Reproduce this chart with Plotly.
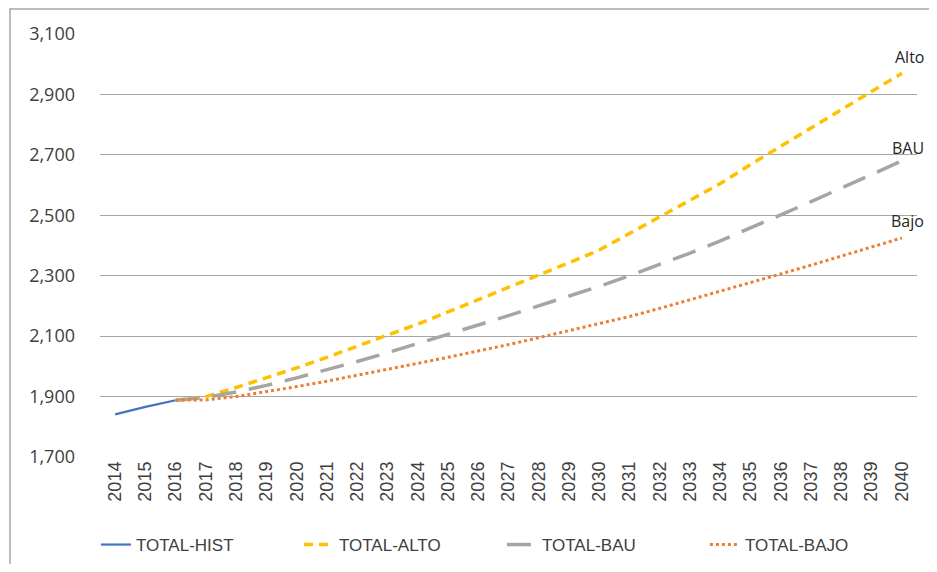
import plotly.graph_objects as go

years = [str(y) for y in range(2014, 2041)]

hist_years = ["2014", "2015", "2016"]
total_hist = [1841, 1866, 1888]

proj_years = [str(y) for y in range(2016, 2041)]
total_alto = [1888, 1900, 1930, 1962, 1995, 2030, 2066, 2103, 2140, 2180,
              2220, 2262, 2302, 2343, 2385, 2440, 2497, 2550, 2605, 2668,
              2728, 2788, 2850, 2910, 2970]
total_bau = [1888, 1897, 1915, 1937, 1962, 1988, 2016, 2045, 2075, 2105,
             2137, 2168, 2200, 2233, 2265, 2300, 2337, 2375, 2415, 2458,
             2500, 2545, 2590, 2635, 2680]
total_bajo = [1888, 1889, 1900, 1916, 1933, 1951, 1970, 1990, 2010, 2030,
              2050, 2072, 2095, 2118, 2140, 2165, 2192, 2220, 2248, 2277,
              2306, 2335, 2365, 2395, 2425]

end_labels = ["Alto", "BAU", "Bajo"]

fig = go.Figure()

fig.add_trace(go.Scatter(x=hist_years, y=total_hist, name="TOTAL-HIST", mode="lines",
                         line=dict(color="#4472C4", width=2.2)))
fig.add_trace(go.Scatter(x=proj_years, y=total_alto, name="TOTAL-ALTO", mode="lines",
                         line=dict(color="#FFC000", width=3.5, dash="9px,6px")))
fig.add_trace(go.Scatter(x=proj_years, y=total_bau, name="TOTAL-BAU", mode="lines",
                         line=dict(color="#A5A5A5", width=3.5, dash="24px,13px")))
fig.add_trace(go.Scatter(x=proj_years, y=total_bajo, name="TOTAL-BAJO", mode="lines",
                         line=dict(color="#ED7D31", width=3, dash="dot")))

# labels at the end of each scenario line (index 26 = 2040 on the category axis)
for lab, vals, ys in zip(end_labels, [total_alto, total_bau, total_bajo], [16, 13, 17]):
    fig.add_annotation(x=len(years) - 1, y=vals[-1], xref="x", yref="y",
                       text=lab, showarrow=False, xshift=24, yshift=ys,
                       xanchor="right",
                       font=dict(family="Open Sans", size=16, color="#262626"))

# outer chart frame
fig.add_shape(type="rect", xref="paper", yref="paper",
              x0=(10 - 100) / 817, x1=1.2, y0=-0.5, y1=(457 - 9) / 423,
              line=dict(color="#A6A6A6", width=1.5), fillcolor="rgba(0,0,0,0)")

fig.update_xaxes(type="category", categoryorder="array", categoryarray=years,
                 range=[-0.5, 26.5], tickangle=-90, showgrid=False,
                 showline=False, ticks="", automargin=False,
                 tickfont=dict(family="Liberation Sans", size=18, color="#404040"))
fig.update_yaxes(range=[1700, 3100], tick0=1700, dtick=200, tickformat=",",
                 showgrid=True, gridcolor="#A6A6A6", gridwidth=1.3,
                 zeroline=False, showline=False, ticks="", ticklabelstandoff=24,
                 automargin=False,
                 tickfont=dict(family="Open Sans", size=18, color="#404040"))

# the page adds an 8px body margin, so the figure is drawn smaller
fig.update_layout(
    width=929, height=556,
    margin=dict(l=92, r=20, t=26, b=107, autoexpand=False),
    plot_bgcolor="white", paper_bgcolor="white",
    legend=dict(orientation="h", x=-0.005, xanchor="left", y=-0.208, yanchor="middle",
                entrywidth=158, entrywidthmode="pixels",
                font=dict(family="Liberation Sans", size=17, color="#404040")),
)

fig.write_html("out.html")
